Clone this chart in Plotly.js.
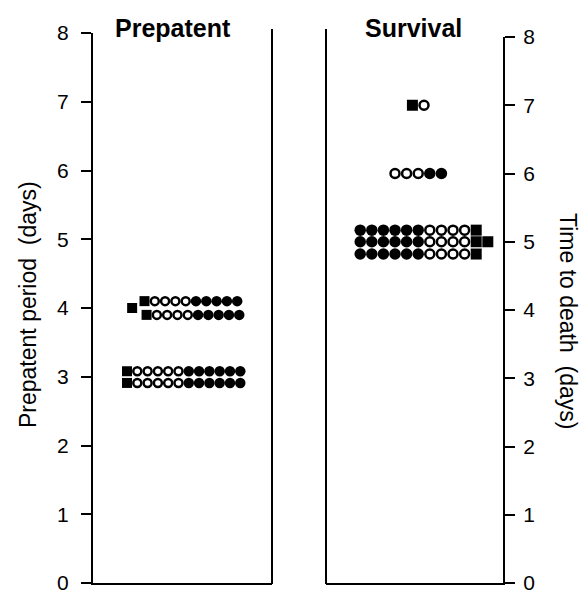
<!DOCTYPE html>
<html>
<head>
<meta charset="utf-8">
<script src="https://cdn.plot.ly/plotly-3.0.1.min.js"></script>
<style>html,body{margin:0;padding:0;background:#fff;}#chart{width:582px;height:597px;}</style>
</head>
<body>
<div id="chart"></div>
<script>
// ---- Data (each symbol in a pattern is one animal: S = square, O = open circle, F = filled circle)
const panelTitles = ["Prepatent", "Survival"];
const yTickVals = [0, 1, 2, 3, 4, 5, 6, 7, 8];
const yTitleLeft = "Prepatent period \u00A0(days)";
const yTitleRight = "Time to death \u00A0(days)";

// Prepatent panel rows: day value, first slot position, symbol pattern
const preRowY = [4.0, 4.1, 3.9, 3.08, 2.91];
const preRowStart = [3.8, 5.0, 5.2, 3.3, 3.3];
const preRowPattern = ["S", "SOOOOFFFFF", "SOOOOFFFFF", "SOOOOOFFFFFF", "SOOOOOFFFFFF"];

// Survival panel rows
const survRowY = [7.0, 6.0, 5.17, 5.0, 4.82];
const survRowStart = [7.45, 5.95, 2.95, 2.95, 2.95];
const survRowPattern = ["SO", "OOOFF", "FFFFFFOOOOS", "FFFFFFOOOOSS", "FFFFFFOOOOS"];

function expand(rowY, rowStart, rowPattern, sym) {
  const xs = [], ys = [];
  rowPattern.forEach((p, i) => {
    for (let k = 0; k < p.length; k++) {
      if (p[k] === sym) { xs.push(rowStart[i] + k); ys.push(rowY[i]); }
    }
  });
  return {x: xs, y: ys};
}

function makeTraces(rowY, rowStart, rowPattern, xa, ya, cs, sq) {
  const f = expand(rowY, rowStart, rowPattern, "F");
  const o = expand(rowY, rowStart, rowPattern, "O");
  const s = expand(rowY, rowStart, rowPattern, "S");
  return [
    {x: f.x, y: f.y, xaxis: xa, yaxis: ya, type: "scatter", mode: "markers", hoverinfo: "skip",
     marker: {symbol: "circle", size: cs, color: "#000", line: {width: 0}}},
    {x: o.x, y: o.y, xaxis: xa, yaxis: ya, type: "scatter", mode: "markers", hoverinfo: "skip",
     marker: {symbol: "circle", size: cs - 2.5, color: "#fff", line: {width: 2.5, color: "#000"}}},
    {x: s.x, y: s.y, xaxis: xa, yaxis: ya, type: "scatter", mode: "markers", hoverinfo: "skip",
     marker: {symbol: "square", size: sq, color: "#000", line: {width: 0}}}
  ];
}

const traces = [].concat(
  makeTraces(preRowY, preRowStart, preRowPattern, "x", "y", 10.5, 10),
  makeTraces(survRowY, survRowStart, survRowPattern, "x2", "y2", 11.5, 11)
);

const W = 582, H = 597;
const BOT = 583;
const font = "Liberation Sans, Arial, Helvetica, sans-serif";
const xBase = {showline: true, linewidth: 2, linecolor: "#000", showticklabels: false, ticks: "",
  showgrid: false, zeroline: false, fixedrange: true};
const yBase = {range: [0, 8], tickvals: yTickVals, ticks: "outside", ticklen: 10, tickwidth: 2, tickcolor: "#000",
  showline: true, linewidth: 2, linecolor: "#000", mirror: false, showgrid: false, zeroline: false,
  tickfont: {family: font, size: 21, color: "#000"}, ticklabeloverflow: "allow", fixedrange: true};

const layout = {
  width: W, height: H, showlegend: false,
  margin: {l: 0, r: 0, t: 0, b: 0},
  paper_bgcolor: "#fff", plot_bgcolor: "#fff",
  font: {family: font, color: "#000"},
  xaxis: Object.assign({}, xBase, {domain: [93 / W, 272 / W], range: [0, 17.38], anchor: "y"}),
  yaxis: Object.assign({}, yBase, {domain: [(H - BOT) / H, (H - 33) / H], anchor: "x", side: "left", ticklabelstandoff: 8}),
  xaxis2: Object.assign({}, xBase, {domain: [326 / W, 503 / W], range: [0, 15.26], anchor: "y2"}),
  yaxis2: Object.assign({}, yBase, {domain: [(H - BOT) / H, (H - 37) / H], anchor: "x2", side: "right", ticklabelstandoff: 4}),
  shapes: [
    {type: "line", xref: "x domain", x0: 1, x1: 1, yref: "paper", y0: (H - BOT - 1) / H, y1: (H - 29) / H,
     line: {color: "#000", width: 2}},
    {type: "line", xref: "x2 domain", x0: 0, x1: 0, yref: "paper", y0: (H - BOT - 1) / H, y1: (H - 29) / H,
     line: {color: "#000", width: 2}}
  ],
  annotations: [
    {text: "<b>" + panelTitles[0] + "</b>", xref: "paper", yref: "paper", x: 173 / W, y: (H - 28) / H,
     xanchor: "center", yanchor: "middle", showarrow: false, font: {family: font, size: 25, color: "#000"}},
    {text: "<b>" + panelTitles[1] + "</b>", xref: "paper", yref: "paper", x: 413 / W, y: (H - 28) / H,
     xanchor: "center", yanchor: "middle", showarrow: false, font: {family: font, size: 25, color: "#000"}},
    {text: yTitleLeft, xref: "paper", yref: "paper", x: 28 / W, y: (H - 305) / H, textangle: -90,
     xanchor: "center", yanchor: "middle", showarrow: false, font: {family: font, size: 23, color: "#000"}},
    {text: yTitleRight, xref: "paper", yref: "paper", x: 568 / W, y: (H - 321) / H, textangle: 90,
     xanchor: "center", yanchor: "middle", showarrow: false, font: {family: font, size: 23, color: "#000"}}
  ]
};

Plotly.newPlot("chart", traces, layout, {staticPlot: true, displayModeBar: false});
</script>
</body>
</html>
